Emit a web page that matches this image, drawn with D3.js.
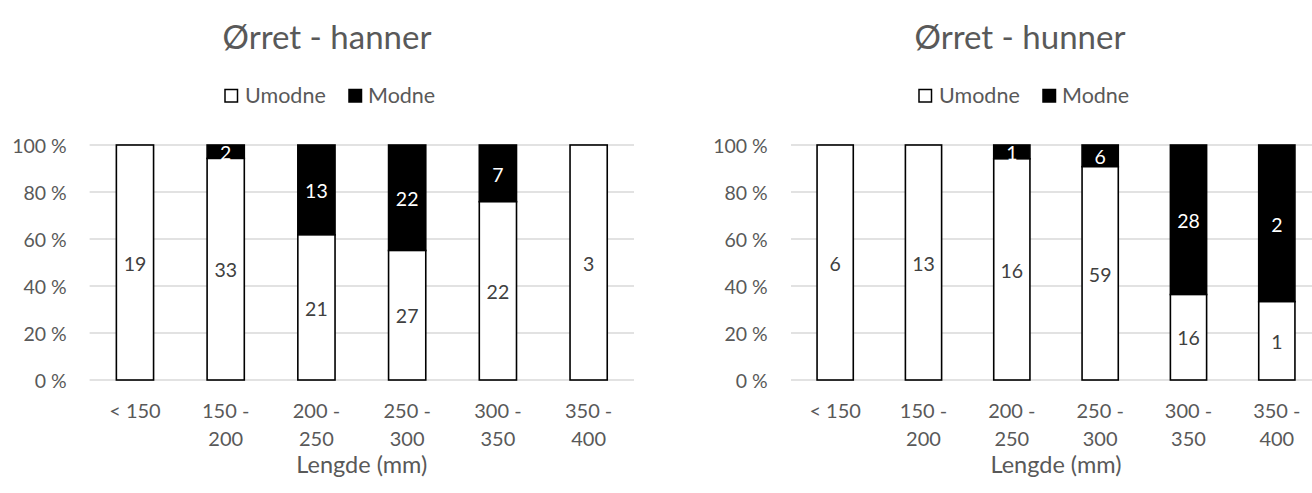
<!DOCTYPE html>
<html>
<head>
<meta charset="utf-8">
<script src="https://cdn.jsdelivr.net/npm/d3@7"></script>
<style>
  html, body { margin: 0; padding: 0; background: #fff; }
  svg { display: block; font-family: Lato, "Open Sans", sans-serif; }
</style>
</head>
<body>
<svg id="chart" width="1312" height="493"></svg>
<script>
// Length classes (mm)
const categories = ["< 150", "150 - 200", "200 - 250", "250 - 300", "300 - 350", "350 - 400"];

// Counts of immature (Umodne) and mature (Modne) fish per length class
const hannerUmodne = [19, 33, 21, 27, 22, 3];
const hannerModne  = [0, 2, 13, 22, 7, 0];
const hunnerUmodne = [6, 13, 16, 59, 16, 1];
const hunnerModne  = [0, 0, 1, 6, 28, 2];

const seriesNames = ["Umodne", "Modne"];
const yTicks = [0, 0.2, 0.4, 0.6, 0.8, 1.0];
const axisTitle = "Lengde (mm)";

const panels = [
  { title: "Ørret - hanner", umodne: hannerUmodne, modne: hannerModne,
    x0: 89.6, x1: 634, labelX: 66.7, titleX: 327, legendX: 331 },
  { title: "Ørret - hunner", umodne: hunnerUmodne, modne: hunnerModne,
    x0: 791, x1: 1321, labelX: 767.7, titleX: 1020, legendX: 1025 }
];

const svg = d3.select("#chart");
const yTop = 145, yBottom = 380;
const textGrey = "#595959";

panels.forEach(p => {
  const g = svg.append("g");

  const x = d3.scaleBand().domain(categories).range([p.x0, p.x1])
    .paddingInner(0.59).paddingOuter(0.295);
  const y = d3.scaleLinear().domain([0, 1]).range([yBottom, yTop]);

  // title
  g.append("text").attr("x", p.titleX).attr("y", 49)
    .attr("text-anchor", "middle").attr("font-size", 33).attr("fill", textGrey)
    .text(p.title);

  // legend
  const leg = g.append("g").attr("transform", `translate(${p.legendX},0)`);
  const legItems = [
    { name: seriesNames[0], fill: "#fff", sx: -106, tx: -86 },
    { name: seriesNames[1], fill: "#000", sx: 18, tx: 37 }
  ];
  legItems.forEach(it => {
    leg.append("rect").attr("x", it.sx).attr("y", 89.5).attr("width", 12.5).attr("height", 12.5)
      .attr("fill", it.fill).attr("stroke", "#000").attr("stroke-width", 1.5);
    leg.append("text").attr("x", it.tx).attr("y", 103)
      .attr("font-size", 21.5).attr("fill", textGrey).text(it.name);
  });

  // gridlines and y labels
  const yAxis = d3.axisLeft(y).tickValues(yTicks).tickSize(0)
    .tickFormat(d => Math.round(d * 100) + " %");
  const ya = g.append("g").attr("transform", `translate(${p.labelX},0)`).call(yAxis);
  ya.select(".domain").remove();
  ya.selectAll("text").attr("x", 0).attr("dy", "0.36em")
    .attr("font-size", 19.5).attr("font-family", "Lato").attr("fill", textGrey);

  g.append("g").selectAll("line").data(yTicks).join("line")
    .attr("x1", p.x0).attr("x2", p.x1)
    .attr("y1", d => y(d)).attr("y2", d => y(d))
    .attr("stroke", "#d9d9d9").attr("stroke-width", 1.3);

  // stacked 100% bars
  const rows = categories.map((c, i) => {
    const total = p.umodne[i] + p.modne[i];
    return { cat: c, u: p.umodne[i], m: p.modne[i], uf: p.umodne[i] / total };
  });

  const bars = g.append("g");
  rows.forEach(r => {
    const bx = x(r.cat), bw = x.bandwidth();
    if (r.m > 0) {
      bars.append("rect").attr("x", bx).attr("y", y(1)).attr("width", bw)
        .attr("height", y(r.uf) - y(1)).attr("fill", "#000")
        .attr("stroke", "#000").attr("stroke-width", 1.6);
    }
    if (r.u > 0) {
      bars.append("rect").attr("x", bx).attr("y", y(r.uf)).attr("width", bw)
        .attr("height", y(0) - y(r.uf)).attr("fill", "#fff")
        .attr("stroke", "#000").attr("stroke-width", 1.6);
    }
  });

  // value labels
  const labels = g.append("g").attr("font-size", 19.5).attr("text-anchor", "middle");
  rows.forEach(r => {
    const cx = x(r.cat) + x.bandwidth() / 2;
    if (r.u > 0) {
      labels.append("text").attr("x", cx).attr("y", (y(0) + y(r.uf)) / 2)
        .attr("dy", "0.42em").attr("fill", "#404040").text(r.u);
    }
    if (r.m > 0) {
      labels.append("text").attr("x", cx).attr("y", (y(r.uf) + y(1)) / 2)
        .attr("dy", "0.42em").attr("fill", "#fff").text(r.m);
    }
  });

  // category labels, wrapped after the dash
  const xa = g.append("g").attr("font-size", 20).attr("fill", textGrey).attr("text-anchor", "middle");
  categories.forEach(c => {
    const cx = x(c) + x.bandwidth() / 2;
    const parts = c.includes(" - ") ? [c.split(" - ")[0] + " -", c.split(" - ")[1]] : [c];
    const t = xa.append("text").attr("x", cx).attr("y", 418);
    parts.forEach((s, k) => {
      t.append("tspan").attr("x", cx).attr("dy", k === 0 ? 0 : 28).text(s);
    });
  });

  // axis title
  g.append("text").attr("x", (p.x0 + p.x1) / 2).attr("y", 473)
    .attr("text-anchor", "middle").attr("font-size", 23.5).attr("fill", textGrey)
    .text(axisTitle);
});
</script>
</body>
</html>
